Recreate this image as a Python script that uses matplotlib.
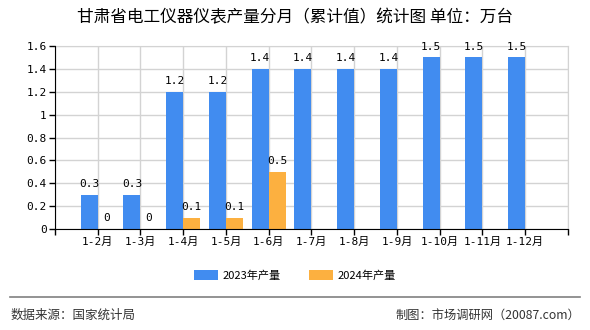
import matplotlib
matplotlib.use("Agg")
import matplotlib.pyplot as plt
import numpy as np

plt.rcParams['font.family'] = ['Noto Sans CJK SC', 'DejaVu Sans']
mono = ['DejaVu Sans Mono', 'Noto Sans CJK SC']

months = ['1-2月', '1-3月', '1-4月', '1-5月', '1-6月', '1-7月',
          '1-8月', '1-9月', '1-10月', '1-11月', '1-12月']
prod_2023 = [0.3, 0.3, 1.2, 1.2, 1.4, 1.4, 1.4, 1.4, 1.5, 1.5, 1.5]
prod_2024 = [0, 0, 0.1, 0.1, 0.5]

blue = '#418CF0'
orange = '#FCB040'

fig = plt.figure(figsize=(5.9, 3.3), dpi=100)
ax = fig.add_axes([0.0932, 0.306, 0.8695, 0.5545])

x = np.arange(len(months))
w = 0.4
ax.bar(x - w / 2, prod_2023, width=w, color=blue, label='2023年产量', zorder=3)
x2 = x[:len(prod_2024)]
ax.bar(x2 + w / 2, prod_2024, width=w, color=orange, label='2024年产量', zorder=3)

for xi, v in zip(x, prod_2023):
    ax.text(xi - w / 2, v + 0.05, f'{v:g}', ha='center', va='bottom', fontsize=8, family=mono)
for xi, v in zip(x2, prod_2024):
    ax.text(xi + w / 2, v + 0.05, f'{v:g}', ha='center', va='bottom', fontsize=8, family=mono)

ax.set_xlim(-1, len(months))
ax.set_ylim(0, 1.6)
ax.set_yticks(np.arange(0, 1.61, 0.2))
ax.set_yticklabels(['0', '0.2', '0.4', '0.6', '0.8', '1', '1.2', '1.4', '1.6'], fontsize=8, family=mono)
ax.set_xticks(np.arange(-1, len(months) + 1))
ax.set_xticklabels([''] + months + [''], fontsize=8, family=mono)
ax.grid(True, color='#d3d3d3', linewidth=1, zorder=0)
ax.tick_params(axis='both', length=4, width=1, color='black', pad=2)
for s in ['top', 'right']:
    ax.spines[s].set_color('#d3d3d3')
for s in ['left', 'bottom']:
    ax.spines[s].set_color('black')
    ax.spines[s].set_zorder(4)

fig.text(0.5, 0.945, '甘肃省电工仪器仪表产量分月（累计值）统计图 单位：万台',
         ha='center', va='center', fontsize=12)

ax.legend(loc='center', bbox_to_anchor=(0.5, 0.165), bbox_transform=fig.transFigure,
          ncol=2, frameon=False, fontsize=8, handlelength=2.2, handleheight=0.9,
          columnspacing=2.5, handletextpad=0.4)

fig.add_artist(plt.Line2D([0.017, 0.983], [0.1, 0.1], color='#808080', linewidth=1.2))
fig.text(0.017, 0.045, '数据来源：国家统计局', ha='left', va='center', fontsize=9, color='#333333')
fig.text(0.983, 0.045, '制图：市场调研网（20087.com）', ha='right', va='center', fontsize=8.8, color='#333333')

fig.savefig('out.png', dpi=100)
